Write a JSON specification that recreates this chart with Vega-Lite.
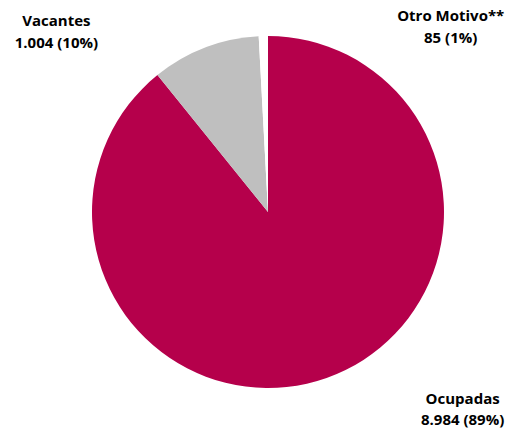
{
  "$schema": "https://vega.github.io/schema/vega-lite/v6.json",
  "width": 480,
  "height": 424,
  "autosize": {"type": "none"},
  "padding": {"left": 28, "top": 0, "right": 0, "bottom": 5},
  "background": "white",
  "view": {"stroke": null},
  "data": {
    "values": [
      {"categoria": "Ocupadas", "valor": 8984, "orden": 1, "etiqueta": ["Ocupadas", "8.984 (89%)"]},
      {"categoria": "Vacantes", "valor": 1004, "orden": 2, "etiqueta": ["Vacantes", "1.004 (10%)"]},
      {"categoria": "Otro Motivo**", "valor": 85, "orden": 3, "etiqueta": ["Otro Motivo**", "85 (1%)"]}
    ]
  },
  "encoding": {
    "theta": {"field": "valor", "type": "quantitative", "stack": true},
    "order": {"field": "orden", "type": "quantitative"}
  },
  "layer": [
    {
      "mark": {"type": "arc", "radius": 176},
      "encoding": {
        "color": {
          "field": "categoria",
          "type": "nominal",
          "scale": {"domain": ["Ocupadas", "Vacantes", "Otro Motivo**"], "range": ["#B5004B", "#BFBFBF", "#FFFFFF"]},
          "legend": null
        }
      }
    },
    {
      "mark": {"type": "text", "radius": 200, "dx": 128, "dy": -2, "font": "Open Sans", "fontWeight": "bold", "fontSize": 15, "lineHeight": 21, "align": "center", "baseline": "middle", "color": "#000000"},
      "encoding": {"text": {"condition": {"test": "datum.categoria === 'Ocupadas'", "field": "etiqueta"}, "value": ""}}
    },
    {
      "mark": {"type": "text", "radius": 200, "dx": -140, "dy": -4, "font": "Open Sans", "fontWeight": "bold", "fontSize": 15, "lineHeight": 22, "align": "center", "baseline": "middle", "color": "#000000"},
      "encoding": {"text": {"condition": {"test": "datum.categoria === 'Vacantes'", "field": "etiqueta"}, "value": ""}}
    },
    {
      "mark": {"type": "text", "radius": 200, "dx": 188, "dy": 4, "font": "Open Sans", "fontWeight": "bold", "fontSize": 15, "lineHeight": 22, "align": "center", "baseline": "middle", "color": "#000000"},
      "encoding": {"text": {"condition": {"test": "datum.categoria === 'Otro Motivo**'", "field": "etiqueta"}, "value": ""}}
    }
  ]
}
